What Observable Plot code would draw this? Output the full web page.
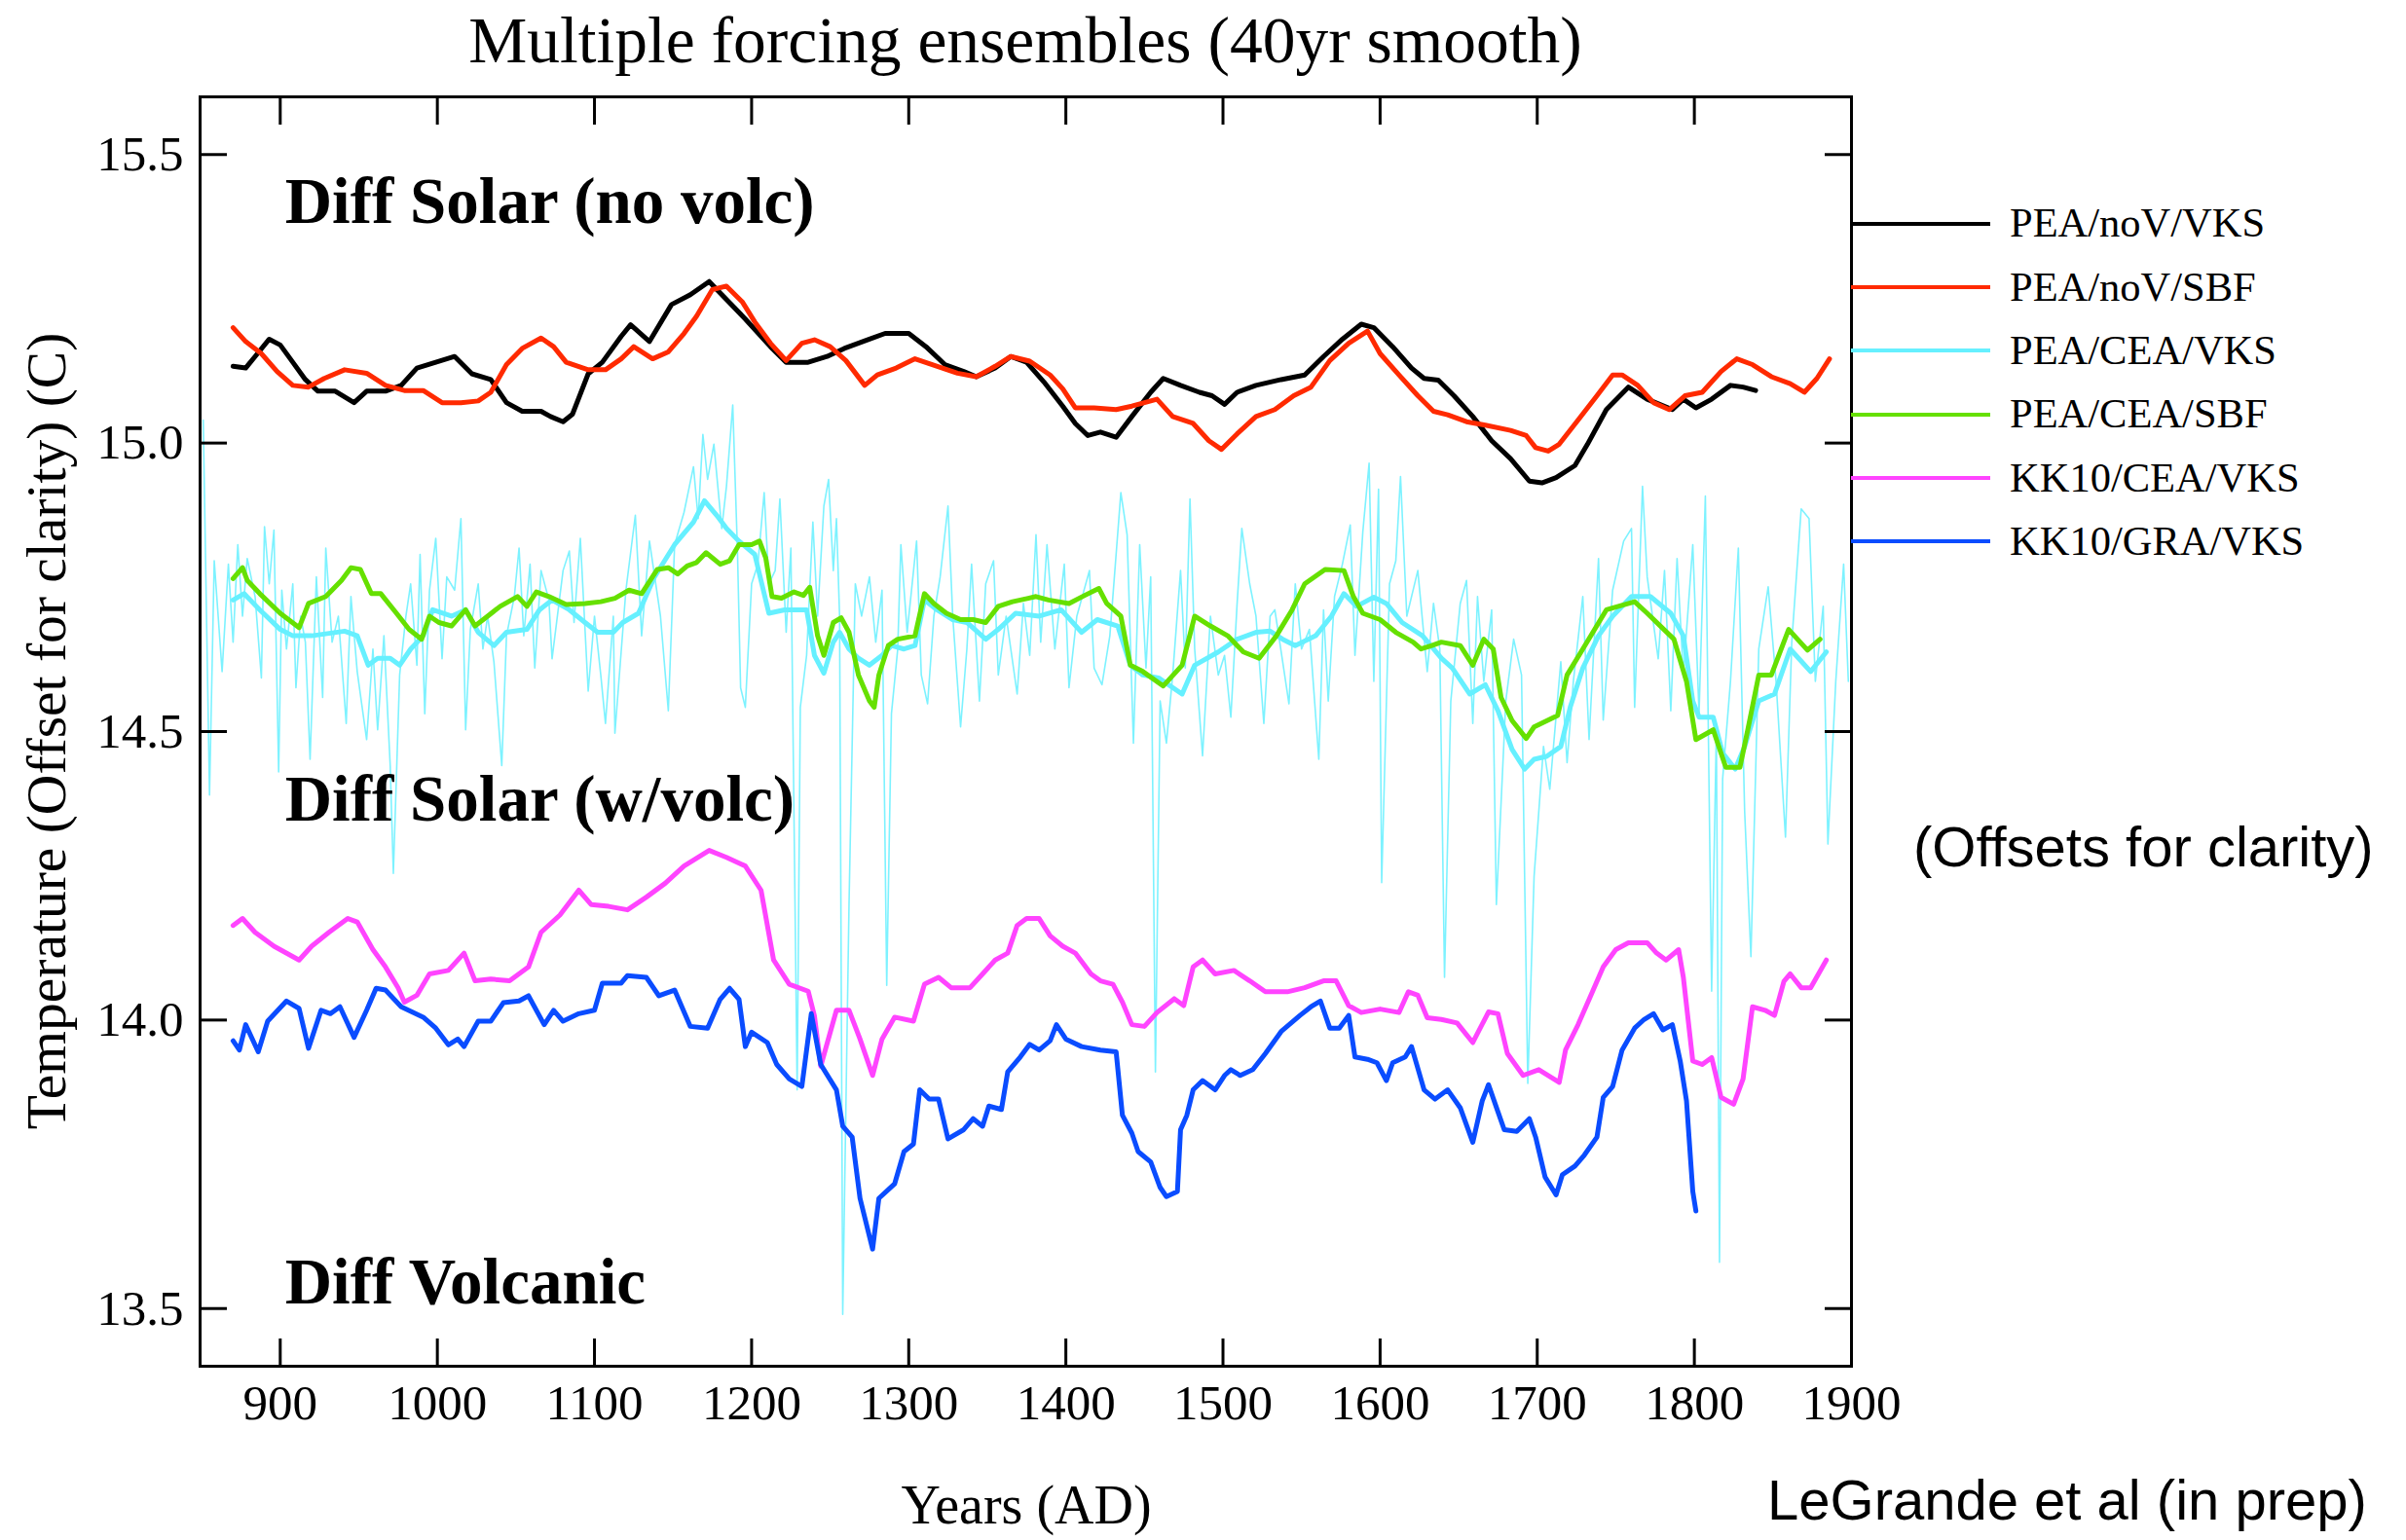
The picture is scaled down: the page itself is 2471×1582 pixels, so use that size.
<!DOCTYPE html>
<html>
<head>
<meta charset="utf-8">
<script src="https://cdn.jsdelivr.net/npm/d3@7"></script>
<script src="https://cdn.jsdelivr.net/npm/@observablehq/plot@0.6"></script>
<style>
  html, body { margin: 0; padding: 0; background: #fff; }
  #wrap { position: relative; width: 2471px; height: 1582px; overflow: hidden;
          font-family: "Liberation Serif", "Times New Roman", serif; color: #000; }
  #wrap > svg { position: absolute; left: 0; top: 0; }
  .t { position: absolute; white-space: nowrap; line-height: 1; }
  .sans { font-family: "Liberation Sans", Arial, sans-serif; }
  #legend { position: absolute; left: 1901px; top: 197px; }
  .row { display: flex; align-items: center; height: 65.3px; }
  .sw { width: 143px; height: 4px; }
  .lab { margin-left: 20px; font-size: 42.5px; line-height: 1; white-space: nowrap; }
</style>
</head>
<body>
<div id="wrap"></div>
<script>
// ---------- texts ----------
const titleText = "Multiple forcing ensembles (40yr smooth)";
const xLabel = "Years (AD)";
const yLabel = "Temperature (Offset for clarity) (C)";
const noteText = "(Offsets for clarity)";
const creditText = "LeGrande et al (in prep)";

// ---------- axes ----------
const xTicks = [900, 1000, 1100, 1200, 1300, 1400, 1500, 1600, 1700, 1800, 1900];
const yTicks = [13.5, 14.0, 14.5, 15.0, 15.5];

// ---------- legend ----------
const seriesNames = ["PEA/noV/VKS", "PEA/noV/SBF", "PEA/CEA/VKS", "PEA/CEA/SBF", "KK10/CEA/VKS", "KK10/GRA/VKS"];
const seriesColors = ["#000000", "#ff2a00", "#66f0ff", "#66e000", "#ff44ff", "#0a4cff"];

// ---------- in-panel labels ----------
const annotations = [
  {label: "Diff Solar (no volc)", year: 903, temp: 15.381},
  {label: "Diff Solar (w/volc)", year: 903, temp: 14.345},
  {label: "Diff Volcanic", year: 903, temp: 13.508}
];

// ---------- series values [year, temperature] ----------
const peaNoVVks = [[870,15.133],[878,15.13],[884,15.15],[893,15.18],[900,15.17],[908,15.14],[916,15.11],[924,15.09],[935,15.09],[947,15.07],[955,15.09],[967,15.09],[977,15.10],[987,15.13],[999,15.14],[1011,15.15],[1022,15.12],[1034,15.11],[1044,15.07],[1054,15.055],[1066,15.055],[1072,15.046],[1080,15.037],[1086,15.05],[1096,15.12],[1105,15.14],[1117,15.185],[1123,15.205],[1135,15.176],[1149,15.24],[1161,15.257],[1173,15.28],[1180,15.26],[1196,15.215],[1212,15.167],[1222,15.14],[1236,15.14],[1248,15.15],[1259,15.164],[1275,15.18],[1285,15.19],[1300,15.19],[1311,15.167],[1323,15.136],[1335,15.124],[1343,15.115],[1355,15.13],[1365,15.15],[1375,15.14],[1386,15.106],[1398,15.064],[1406,15.034],[1414,15.013],[1422,15.019],[1432,15.01],[1442,15.046],[1454,15.088],[1462,15.112],[1473,15.10],[1485,15.088],[1493,15.082],[1501,15.067],[1509,15.088],[1521,15.10],[1537,15.11],[1552,15.118],[1564,15.15],[1576,15.18],[1588,15.206],[1596,15.20],[1608,15.167],[1620,15.13],[1628,15.112],[1637,15.109],[1647,15.082],[1659,15.046],[1671,15.004],[1683,14.973],[1695,14.934],[1703,14.931],[1712,14.94],[1724,14.961],[1732,14.998],[1744,15.058],[1758,15.097],[1770,15.076],[1786,15.058],[1793,15.076],[1801,15.061],[1811,15.076],[1823,15.10],[1831,15.097],[1839,15.091]];

const peaNoVSbf = [[870,15.20],[878,15.176],[888,15.155],[898,15.124],[908,15.10],[918,15.097],[928,15.112],[941,15.127],[955,15.121],[967,15.10],[979,15.091],[991,15.091],[1003,15.07],[1015,15.07],[1026,15.073],[1034,15.088],[1044,15.136],[1054,15.164],[1066,15.182],[1074,15.167],[1082,15.14],[1096,15.127],[1107,15.127],[1117,15.146],[1125,15.167],[1137,15.146],[1147,15.158],[1157,15.19],[1165,15.22],[1175,15.266],[1184,15.272],[1194,15.245],[1202,15.21],[1212,15.173],[1222,15.143],[1232,15.173],[1240,15.179],[1250,15.167],[1260,15.143],[1272,15.10],[1280,15.118],[1292,15.13],[1304,15.146],[1315,15.136],[1331,15.121],[1343,15.115],[1355,15.133],[1365,15.15],[1377,15.142],[1390,15.118],[1398,15.094],[1406,15.061],[1418,15.061],[1432,15.058],[1442,15.064],[1458,15.076],[1468,15.046],[1481,15.034],[1491,15.004],[1499,14.989],[1509,15.016],[1521,15.046],[1533,15.058],[1545,15.082],[1556,15.097],[1568,15.143],[1580,15.173],[1592,15.194],[1600,15.155],[1612,15.118],[1624,15.082],[1634,15.055],[1643,15.049],[1655,15.037],[1667,15.031],[1683,15.022],[1693,15.013],[1699,14.992],[1707,14.986],[1714,14.998],[1726,15.04],[1738,15.082],[1748,15.118],[1754,15.118],[1764,15.10],[1774,15.07],[1784,15.058],[1794,15.082],[1805,15.088],[1817,15.124],[1827,15.146],[1837,15.136],[1849,15.115],[1861,15.103],[1870,15.088],[1878,15.112],[1886,15.146]];

// annual (unsmoothed) PEA/CEA/VKS member, thin trace
const peaCeaVksAnnual = [[851,15.04],[855,14.39],[858,14.796],[863,14.604],[867,14.79],[870,14.655],[873,14.824],[876,14.70],[879,14.80],[884,14.734],[888,14.593],[890,14.855],[893,14.756],[896,14.849],[899,14.43],[901,14.745],[904,14.643],[908,14.756],[910,14.576],[913,14.70],[916,14.655],[919,14.452],[923,14.768],[927,14.559],[929,14.818],[933,14.655],[937,14.70],[942,14.514],[945,14.734],[949,14.604],[955,14.486],[959,14.643],[962,14.503],[966,14.666],[970,14.441],[972,14.254],[976,14.598],[980,14.70],[983,14.756],[987,14.615],[989,14.807],[992,14.531],[995,14.745],[999,14.835],[1003,14.626],[1006,14.768],[1011,14.745],[1015,14.869],[1018,14.503],[1021,14.677],[1026,14.756],[1029,14.643],[1032,14.70],[1036,14.621],[1041,14.441],[1044,14.666],[1049,14.734],[1052,14.818],[1055,14.666],[1059,14.79],[1062,14.61],[1066,14.779],[1071,14.728],[1073,14.626],[1080,14.779],[1084,14.813],[1087,14.689],[1091,14.835],[1096,14.57],[1100,14.70],[1104,14.598],[1107,14.514],[1112,14.70],[1113,14.497],[1120,14.745],[1126,14.875],[1130,14.666],[1135,14.83],[1142,14.70],[1147,14.536],[1151,14.824],[1157,14.88],[1163,14.959],[1166,14.869],[1169,15.015],[1172,14.937],[1176,14.998],[1181,14.852],[1184,14.925],[1188,15.066],[1191,14.813],[1193,14.576],[1196,14.542],[1200,14.756],[1204,14.79],[1208,14.914],[1211,14.756],[1215,14.779],[1218,14.903],[1222,14.672],[1225,14.818],[1229,13.879],[1231,14.542],[1235,14.632],[1239,14.863],[1242,14.70],[1246,14.891],[1249,14.937],[1252,14.779],[1254,14.869],[1256,14.70],[1258,13.49],[1262,14.20],[1266,14.756],[1270,14.70],[1275,14.768],[1279,14.655],[1283,14.745],[1286,14.06],[1289,14.531],[1293,14.643],[1295,14.824],[1299,14.672],[1305,14.83],[1308,14.598],[1312,14.548],[1316,14.70],[1320,14.768],[1325,14.891],[1328,14.70],[1333,14.508],[1337,14.643],[1340,14.79],[1345,14.553],[1349,14.756],[1354,14.796],[1357,14.598],[1362,14.70],[1369,14.565],[1373,14.722],[1377,14.632],[1381,14.841],[1384,14.655],[1388,14.824],[1393,14.643],[1399,14.79],[1402,14.576],[1407,14.70],[1415,14.779],[1418,14.61],[1423,14.581],[1428,14.666],[1435,14.914],[1439,14.841],[1443,14.48],[1447,14.824],[1451,14.61],[1454,14.768],[1457,13.91],[1460,14.553],[1464,14.48],[1468,14.598],[1473,14.779],[1476,14.61],[1479,14.903],[1482,14.643],[1487,14.458],[1492,14.70],[1497,14.598],[1501,14.632],[1505,14.525],[1509,14.722],[1512,14.852],[1517,14.756],[1521,14.70],[1526,14.514],[1530,14.70],[1533,14.711],[1538,14.621],[1542,14.548],[1546,14.756],[1550,14.643],[1555,14.677],[1561,14.452],[1564,14.711],[1567,14.553],[1571,14.734],[1576,14.79],[1581,14.858],[1584,14.632],[1589,14.846],[1593,14.965],[1596,14.587],[1599,14.92],[1601,14.238],[1606,14.756],[1610,14.796],[1613,14.942],[1617,14.70],[1624,14.779],[1630,14.604],[1634,14.722],[1638,14.643],[1641,14.074],[1645,14.553],[1651,14.722],[1655,14.762],[1659,14.514],[1662,14.734],[1666,14.587],[1671,14.711],[1674,14.20],[1680,14.553],[1685,14.66],[1690,14.598],[1694,13.89],[1698,14.249],[1704,14.474],[1708,14.40],[1715,14.621],[1719,14.446],[1723,14.587],[1729,14.734],[1733,14.486],[1739,14.80],[1742,14.52],[1748,14.745],[1755,14.83],[1760,14.852],[1762,14.542],[1767,14.925],[1770,14.768],[1777,14.626],[1781,14.779],[1785,14.536],[1789,14.80],[1793,14.598],[1799,14.824],[1803,14.531],[1807,14.908],[1811,14.05],[1814,14.50],[1816,13.58],[1818,14.418],[1823,14.587],[1828,14.818],[1832,14.362],[1836,14.11],[1841,14.643],[1847,14.751],[1852,14.587],[1858,14.317],[1862,14.655],[1868,14.886],[1873,14.869],[1877,14.587],[1882,14.717],[1885,14.305],[1890,14.587],[1895,14.79],[1898,14.587]];

const peaCeaVks = [[870,14.728],[877,14.739],[887,14.711],[900,14.677],[908,14.666],[920,14.666],[941,14.674],[949,14.666],[956,14.615],[962,14.627],[970,14.627],[976,14.615],[983,14.643],[991,14.666],[997,14.711],[1009,14.70],[1018,14.711],[1026,14.672],[1036,14.649],[1044,14.672],[1057,14.677],[1065,14.711],[1073,14.728],[1084,14.711],[1094,14.689],[1102,14.672],[1112,14.672],[1118,14.689],[1128,14.705],[1138,14.767],[1151,14.824],[1163,14.863],[1170,14.9],[1178,14.874],[1184,14.852],[1192,14.83],[1202,14.807],[1211,14.705],[1221,14.711],[1235,14.711],[1240,14.632],[1246,14.601],[1252,14.655],[1256,14.672],[1262,14.643],[1268,14.627],[1275,14.615],[1283,14.632],[1289,14.649],[1297,14.643],[1304,14.649],[1310,14.728],[1318,14.711],[1328,14.694],[1337,14.689],[1349,14.66],[1357,14.677],[1368,14.705],[1383,14.70],[1397,14.711],[1410,14.672],[1420,14.694],[1433,14.683],[1441,14.615],[1449,14.598],[1459,14.593],[1474,14.565],[1482,14.615],[1497,14.638],[1509,14.66],[1521,14.672],[1530,14.674],[1538,14.66],[1546,14.649],[1559,14.666],[1569,14.70],[1577,14.739],[1585,14.717],[1596,14.733],[1604,14.722],[1614,14.689],[1627,14.666],[1639,14.627],[1646,14.61],[1657,14.565],[1667,14.581],[1675,14.536],[1684,14.469],[1692,14.435],[1698,14.452],[1706,14.457],[1715,14.474],[1721,14.542],[1729,14.61],[1739,14.666],[1748,14.70],[1760,14.734],[1772,14.734],[1785,14.705],[1793,14.666],[1799,14.553],[1803,14.525],[1812,14.525],[1818,14.463],[1826,14.435],[1832,14.474],[1841,14.553],[1851,14.565],[1861,14.643],[1874,14.604],[1884,14.638]];

const peaCeaSbf = [[870,14.765],[876,14.784],[879,14.762],[887,14.739],[900,14.705],[912,14.68],[918,14.722],[929,14.734],[939,14.762],[945,14.784],[951,14.781],[958,14.739],[964,14.739],[974,14.705],[982,14.677],[990,14.66],[995,14.7],[1001,14.689],[1009,14.683],[1018,14.711],[1024,14.683],[1032,14.7],[1040,14.717],[1051,14.734],[1057,14.717],[1063,14.742],[1071,14.734],[1082,14.72],[1094,14.722],[1104,14.725],[1113,14.731],[1122,14.745],[1130,14.739],[1140,14.781],[1147,14.784],[1153,14.773],[1159,14.787],[1165,14.793],[1171,14.81],[1180,14.79],[1186,14.796],[1192,14.824],[1200,14.824],[1205,14.83],[1209,14.801],[1213,14.734],[1219,14.731],[1227,14.742],[1233,14.736],[1237,14.75],[1242,14.666],[1246,14.632],[1252,14.689],[1257,14.697],[1262,14.672],[1268,14.598],[1275,14.553],[1278,14.542],[1281,14.598],[1287,14.649],[1293,14.66],[1304,14.666],[1310,14.739],[1316,14.722],[1324,14.705],[1333,14.694],[1341,14.694],[1349,14.689],[1357,14.717],[1366,14.725],[1376,14.731],[1381,14.734],[1389,14.728],[1402,14.722],[1412,14.736],[1421,14.748],[1426,14.722],[1435,14.7],[1441,14.615],[1449,14.604],[1462,14.579],[1474,14.615],[1482,14.7],[1492,14.683],[1503,14.666],[1513,14.638],[1523,14.627],[1534,14.666],[1544,14.711],[1552,14.756],[1565,14.781],[1577,14.779],[1583,14.734],[1589,14.705],[1600,14.694],[1610,14.672],[1621,14.655],[1626,14.643],[1633,14.649],[1639,14.655],[1651,14.649],[1659,14.615],[1666,14.66],[1672,14.643],[1677,14.559],[1684,14.519],[1693,14.488],[1698,14.508],[1713,14.528],[1719,14.598],[1729,14.643],[1744,14.711],[1762,14.725],[1770,14.705],[1787,14.66],[1795,14.587],[1801,14.486],[1812,14.503],[1820,14.438],[1829,14.438],[1834,14.503],[1841,14.598],[1849,14.598],[1860,14.677],[1872,14.641],[1880,14.66]];

const kk10CeaVks = [[870,14.164],[876,14.176],[884,14.152],[896,14.128],[912,14.104],[920,14.128],[931,14.152],[943,14.176],[949,14.17],[959,14.122],[967,14.092],[975,14.056],[979,14.031],[987,14.043],[995,14.08],[1007,14.086],[1017,14.116],[1024,14.068],[1034,14.071],[1046,14.068],[1058,14.092],[1066,14.152],[1078,14.182],[1090,14.225],[1098,14.20],[1109,14.197],[1121,14.191],[1133,14.213],[1145,14.237],[1157,14.267],[1173,14.294],[1184,14.282],[1196,14.267],[1206,14.225],[1214,14.104],[1224,14.062],[1236,14.05],[1240,14.007],[1244,13.92],[1254,14.017],[1262,14.017],[1269,13.967],[1277,13.904],[1283,13.967],[1291,14.005],[1303,13.998],[1310,14.062],[1319,14.074],[1327,14.056],[1339,14.056],[1347,14.08],[1355,14.104],[1363,14.116],[1369,14.164],[1375,14.176],[1383,14.176],[1390,14.146],[1398,14.128],[1406,14.116],[1416,14.08],[1422,14.068],[1430,14.062],[1436,14.031],[1442,13.992],[1450,13.989],[1458,14.013],[1469,14.037],[1475,14.025],[1481,14.092],[1487,14.104],[1495,14.08],[1507,14.086],[1517,14.068],[1527,14.049],[1541,14.049],[1552,14.056],[1564,14.068],[1572,14.068],[1580,14.025],[1588,14.013],[1600,14.019],[1612,14.013],[1618,14.049],[1624,14.043],[1630,14.004],[1639,14.001],[1649,13.995],[1659,13.961],[1669,14.014],[1675,14.011],[1681,13.942],[1691,13.904],[1701,13.914],[1707,13.904],[1714,13.892],[1718,13.948],[1726,13.992],[1734,14.042],[1742,14.092],[1750,14.122],[1758,14.134],[1770,14.134],[1776,14.116],[1782,14.104],[1790,14.122],[1793,14.074],[1799,13.929],[1805,13.923],[1811,13.935],[1817,13.866],[1825,13.854],[1831,13.898],[1837,14.023],[1845,14.017],[1851,14.008],[1857,14.067],[1861,14.08],[1868,14.056],[1874,14.056],[1884,14.104]];

const kk10GraVks = [[870,13.964],[874,13.948],[878,13.992],[886,13.945],[892,13.998],[904,14.033],[912,14.02],[918,13.951],[926,14.017],[932,14.011],[938,14.023],[947,13.97],[955,14.017],[961,14.055],[967,14.052],[977,14.023],[991,14.005],[999,13.986],[1007,13.957],[1013,13.967],[1017,13.954],[1026,13.998],[1034,13.998],[1042,14.03],[1052,14.033],[1058,14.042],[1068,13.992],[1074,14.017],[1080,13.998],[1090,14.011],[1100,14.017],[1105,14.064],[1117,14.064],[1121,14.077],[1133,14.074],[1141,14.042],[1151,14.052],[1161,13.989],[1172,13.986],[1180,14.036],[1186,14.055],[1192,14.036],[1196,13.954],[1200,13.979],[1210,13.961],[1216,13.923],[1224,13.898],[1232,13.885],[1238,14.011],[1244,13.923],[1254,13.879],[1258,13.816],[1264,13.797],[1269,13.691],[1277,13.603],[1281,13.691],[1291,13.716],[1297,13.772],[1303,13.785],[1307,13.879],[1313,13.863],[1319,13.863],[1325,13.794],[1335,13.81],[1341,13.829],[1347,13.816],[1351,13.851],[1359,13.845],[1363,13.91],[1371,13.936],[1377,13.958],[1383,13.948],[1390,13.964],[1394,13.992],[1400,13.967],[1410,13.954],[1422,13.948],[1432,13.945],[1436,13.835],[1442,13.804],[1446,13.772],[1454,13.754],[1460,13.71],[1464,13.694],[1471,13.703],[1473,13.81],[1477,13.835],[1481,13.879],[1487,13.895],[1495,13.879],[1501,13.904],[1505,13.914],[1511,13.904],[1519,13.914],[1527,13.942],[1537,13.98],[1549,14.008],[1556,14.023],[1562,14.033],[1568,13.986],[1574,13.986],[1580,14.008],[1584,13.936],[1592,13.932],[1598,13.926],[1604,13.895],[1608,13.926],[1616,13.936],[1620,13.954],[1628,13.879],[1635,13.863],[1643,13.879],[1651,13.848],[1659,13.788],[1665,13.86],[1669,13.888],[1675,13.841],[1679,13.81],[1687,13.807],[1695,13.829],[1699,13.797],[1705,13.728],[1712,13.697],[1716,13.732],[1724,13.747],[1730,13.766],[1738,13.797],[1742,13.866],[1748,13.885],[1754,13.948],[1762,13.986],[1768,14.001],[1774,14.011],[1780,13.983],[1786,13.992],[1791,13.929],[1795,13.86],[1799,13.703],[1801,13.669]];

// ---------- build ----------
const toRows = (pts, series) => pts.map(([year, temp]) => ({series, year, temp}));
const lineOf = (pts, i, extra = {}) =>
  Plot.line(toRows(pts, seriesNames[i]), {x: "year", y: "temp", stroke: seriesColors[i], strokeWidth: 5,
    strokeLinejoin: "round", strokeLinecap: "round", clip: true, ...extra});

const chart = Plot.plot({
  width: 2471,
  height: 1582,
  marginLeft: 205,
  marginRight: 570,
  marginTop: 99,
  marginBottom: 179,
  style: {fontFamily: "'Liberation Serif', 'Times New Roman', serif", fontSize: "51px", background: "transparent", color: "#000"},
  x: {domain: [849, 1900]},
  y: {domain: [13.4, 15.6]},
  marks: [
    Plot.line(toRows(peaCeaVksAnnual, seriesNames[2] + " annual"), {x: "year", y: "temp", stroke: seriesColors[2], strokeWidth: 1.6, strokeOpacity: 0.85, clip: true}),
    lineOf(peaNoVVks, 0),
    lineOf(peaNoVSbf, 1),
    lineOf(peaCeaVks, 2),
    lineOf(peaCeaSbf, 3),
    lineOf(kk10CeaVks, 4),
    lineOf(kk10GraVks, 5),
    Plot.text(annotations, {x: "year", y: "temp", text: "label", textAnchor: "start", lineAnchor: "bottom",
      fontSize: 67, fontWeight: "bold", fill: "#000"}),
    Plot.frame({stroke: "#000", strokeWidth: 3}),
    Plot.axisX(xTicks, {anchor: "bottom", tickSize: -28, tickPadding: 46, strokeWidth: 3, fontSize: 51, label: null, tickFormat: d => String(d)}),
    Plot.axisX(xTicks, {anchor: "top", tickSize: -28, strokeWidth: 3, label: null, tickFormat: () => ""}),
    Plot.axisY(yTicks, {anchor: "left", tickSize: -28, tickPadding: 45, strokeWidth: 3, fontSize: 51, label: null, tickFormat: d3.format(".1f")}),
    Plot.axisY(yTicks, {anchor: "right", tickSize: -28, strokeWidth: 3, label: null, tickFormat: () => ""})
  ]
});

const wrap = document.getElementById("wrap");
wrap.appendChild(chart);

function addText(txt, css, cls = "t") {
  const d = document.createElement("div");
  d.className = cls;
  d.textContent = txt;
  Object.assign(d.style, css);
  wrap.appendChild(d);
  return d;
}
addText(titleText, {left: "1053px", top: "8px", fontSize: "67.5px", transform: "translateX(-50%)"});
addText(xLabel, {left: "1054px", top: "1518px", fontSize: "56px", transform: "translateX(-50%)"});
addText(yLabel, {left: "48px", top: "751px", fontSize: "57.5px", transform: "translate(-50%, -50%) rotate(-90deg)"});
addText(noteText, {left: "1965px", top: "841px", fontSize: "58px"}, "t sans");
addText(creditText, {left: "1815px", top: "1512px", fontSize: "58px"}, "t sans");

const legend = document.createElement("div");
legend.id = "legend";
seriesNames.forEach((name, i) => {
  const row = document.createElement("div");
  row.className = "row";
  const sw = document.createElement("div");
  sw.className = "sw";
  sw.style.background = seriesColors[i];
  const lab = document.createElement("div");
  lab.className = "lab";
  lab.textContent = name;
  row.appendChild(sw);
  row.appendChild(lab);
  legend.appendChild(row);
});
wrap.appendChild(legend);
</script>
</body>
</html>
